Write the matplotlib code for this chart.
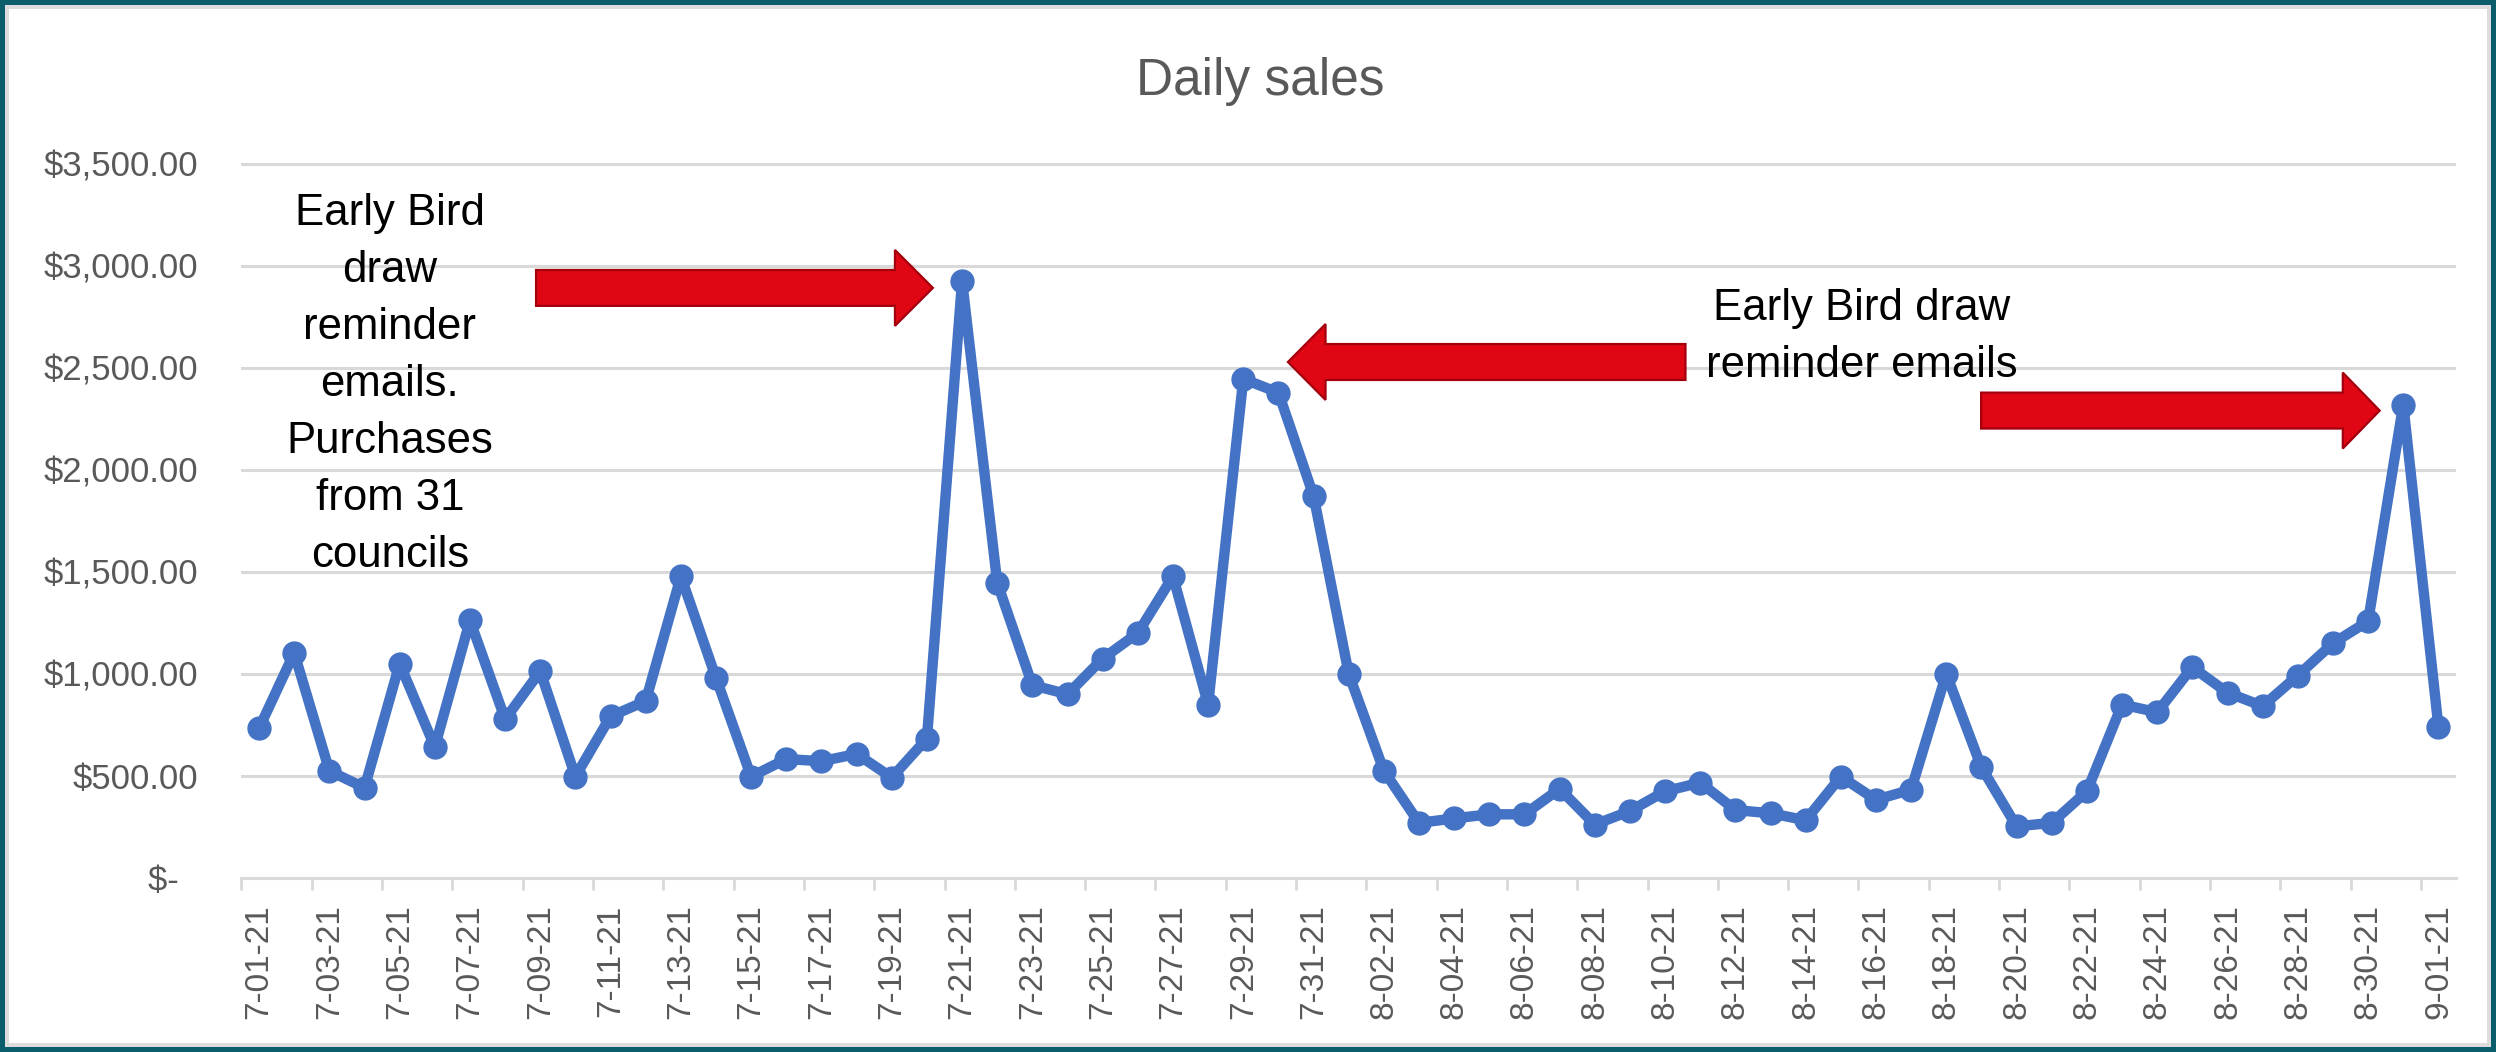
"""Daily sales line chart with the Early Bird reminder-email callouts."""
import matplotlib
matplotlib.use("Agg")
import matplotlib.pyplot as plt
from matplotlib.patches import Polygon, Rectangle

# %% Data -- one value per day, 1 Jul 2021 to 1 Sep 2021.
dates = (
    [f"7-{d:02d}-21" for d in range(1, 32)]
    + [f"8-{d:02d}-21" for d in range(1, 32)]
    + ["9-01-21"]
)
sales = [
    733, 1103, 525, 442, 1050, 642, 1262, 778, 1013, 497,
    792, 867, 1478, 980, 497, 583, 572, 608, 492, 683,
    2925, 1447, 945, 900, 1075, 1200, 1478, 850, 2445, 2378,
    1872, 1000, 525, 270, 292, 312, 312, 437, 262, 328,
    425, 467, 333, 317, 283, 497, 383, 433, 1000, 542,
    253, 270, 425, 850, 812, 1033, 908, 842, 992, 1150,
    1258, 2319, 742,
]
y_ticks = [0, 500, 1000, 1500, 2000, 2500, 3000, 3500]
y_labels = ["$-  "] + [f"${v:,.2f}" for v in y_ticks[1:]]

TITLE = "Daily sales"
NOTE_LEFT = "Early Bird\ndraw\nreminder\nemails.\nPurchases\nfrom 31\ncouncils"
NOTE_RIGHT = "Early Bird draw\nreminder emails"

BLUE = "#4472C4"
GREY_TXT = "#595959"
GRID = "#d9d9d9"
RED = "#e00613"
RED_EDGE = "#a3000e"
TEAL = "#0b5d6b"
FONT = "Liberation Sans"

plt.rcParams["font.family"] = [FONT, "DejaVu Sans"]


def block_arrow(ax, x_tail, x_tip, y, head_len, body_half=88, head_half=186):
    """Excel-style fat horizontal arrow, drawn in data coordinates."""
    sign = 1 if x_tip > x_tail else -1
    x_base = x_tip - sign * head_len
    pts = [
        (x_tail, y - body_half), (x_base, y - body_half), (x_base, y - head_half),
        (x_tip, y), (x_base, y + head_half), (x_base, y + body_half),
        (x_tail, y + body_half),
    ]
    ax.add_patch(Polygon(pts, closed=True, facecolor=RED, edgecolor=RED_EDGE,
                         linewidth=1.6, zorder=4, clip_on=False))


# %% Figure
fig = plt.figure(figsize=(24.96, 10.52), dpi=100)
ymax = 3520
ax = fig.add_axes([0.09675, 0.16540, 0.88722, 0.67909 * ymax / 3500])

x = list(range(len(sales)))
ax.plot(x, sales, color=BLUE, linewidth=7.5, marker="o", markersize=16.5,
        zorder=3, solid_joinstyle="round")

ax.set_xlim(-0.5, len(sales) - 0.5)
ax.set_ylim(0, ymax)

ax.set_xticks(x[::2])
ax.set_xticklabels(dates[::2], rotation=90, fontsize=24, color=GREY_TXT)
ax.set_xticks([i - 0.5 for i in x[::2]], minor=True)
ax.tick_params(axis="x", which="major", length=0, pad=19)
ax.tick_params(axis="x", which="minor", length=8.5, width=2, color=GRID)

ax.set_yticks(y_ticks)
ax.set_yticklabels(y_labels, fontsize=25, color=GREY_TXT)
ax.tick_params(axis="y", length=0, pad=31)

ax.grid(axis="y", color=GRID, linewidth=2.2, zorder=0)
ax.set_axisbelow(True)
for side in ("top", "right", "left"):
    ax.spines[side].set_visible(False)
ax.spines["bottom"].set_color(GRID)
ax.spines["bottom"].set_linewidth(2.2)

# %% Callouts
ax.text(3.72, 2418, NOTE_LEFT, ha="center", va="center", fontsize=31.5,
        linespacing=1.5, color="black", zorder=5)
ax.text(45.6, 2650, NOTE_RIGHT, ha="center", va="center", fontsize=31.5,
        linespacing=1.5, color="black", zorder=5)

block_arrow(ax, 7.88, 19.17, 2891, head_len=1.08)
block_arrow(ax, 40.58, 29.27, 2528, head_len=1.07)
block_arrow(ax, 48.99, 60.33, 2290, head_len=1.05)

fig.text(0.505, 1 - 94.7 / 1052, TITLE, ha="center", va="baseline",
         fontsize=37, color=GREY_TXT)

# %% Slide-style frame around the picture
fig.patches.append(Rectangle((0, 0), 1, 1, transform=fig.transFigure,
                             fill=False, edgecolor=TEAL, linewidth=7.2))
fig.patches.append(Rectangle((7 / 2496, 7 / 1052), 1 - 14 / 2496, 1 - 14 / 1052,
                             transform=fig.transFigure, fill=False,
                             edgecolor="#dcdcdc", linewidth=2.8))

fig.savefig("out.png", dpi=100, facecolor="white")
